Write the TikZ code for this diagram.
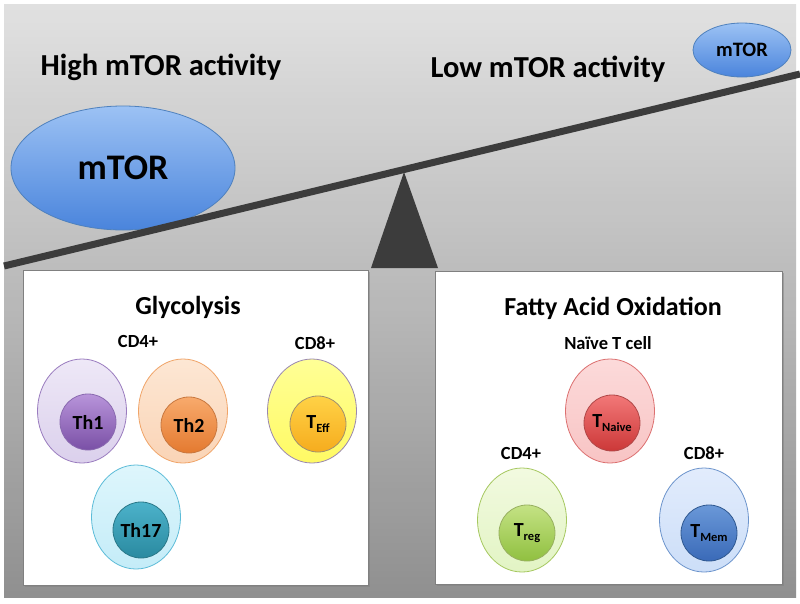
\documentclass[tikz,border=0pt]{standalone}
\usepackage{fontspec}
\setmainfont{Carlito}
\usetikzlibrary{shapes.geometric, shadows, positioning}

\definecolor{beamgray}{HTML}{3C3C3C}
\definecolor{mtorline}{HTML}{4F81BD}
\definecolor{mtortop}{HTML}{9CC2F4}
\definecolor{mtorbot}{HTML}{4A84DC}

\newcommand{\cellsub}[1]{\raisebox{-0.35ex}{\fontsize{12.5}{12.5}\selectfont #1}}

\tikzset{
  outercell/.style={ellipse, line width=0.8pt, minimum width=89pt, minimum height=104pt, inner sep=0pt},
  innercell/.style={circle, line width=0.8pt, minimum size=56pt, inner sep=0pt,
    font=\fontsize{20}{20}\selectfont\bfseries},
  bigtitle/.style={anchor=base, font=\fontsize{30.5}{30.5}\selectfont\bfseries},
  heading/.style={anchor=base, font=\fontsize{26}{26}\selectfont\bfseries},
  subset/.style={anchor=base, font=\fontsize{18.5}{18.5}\selectfont\bfseries},
  panel/.style={draw=gray, line width=0.8pt, fill=white,
    drop shadow={shadow xshift=2pt, shadow yshift=-2pt, opacity=0.5}},
  mtor/.style={ellipse, draw=mtorline, line width=0.8pt, top color=mtortop, bottom color=mtorbot,
    inner sep=0pt, font=\bfseries},
}

\begin{document}
\begin{tikzpicture}[x=1pt, y=-1pt]
	\useasboundingbox (0,0) rectangle (800,603);
	% background
	\fill[white] (0,0) rectangle (800,603);
	\path[top color=gray!10, bottom color=gray!78] (4,4) rectangle (796,597);
	\path[left color=black, middle color=white, right color=black, fill opacity=0.07] (4,4) rectangle (796,597);

	% the two sides of the balance
	\node[bigtitle] (hightxt) at (161,75) {High mTOR activity};
	\node[bigtitle] (lowtxt) at (548,77) {Low mTOR activity};
	\node[mtor, minimum width=224pt, minimum height=124pt, font=\fontsize{36}{36}\selectfont\bfseries] (bigmtor) at (123,168) {mTOR};
	\node[mtor, minimum width=98pt, minimum height=54pt, font=\fontsize{20.5}{20.5}\selectfont\bfseries] (smallmtor) at (742,50) {mTOR};

	% beam and fulcrum
	\coordinate (beamL) at (4,266);
	\coordinate (beamR) at (800,74);
	\coordinate (fulA) at (404,172);
	\coordinate (fulL) at (371,268);
	\coordinate (fulR) at (438,268);
	\fill[beamgray] (fulL) -- (fulA) -- (fulR) -- cycle;
	\draw[beamgray, line width=7pt] (beamL) -- (beamR);

	% panels
	\node[panel, minimum width=345pt, minimum height=315pt, inner sep=0pt] (glypanel) at (195.5,427.5) {};
	\node[panel, minimum width=347pt, minimum height=313pt, inner sep=0pt] (faopanel) at (608.5,427.5) {};

	% glycolysis side
	\node[heading] (glytxt) at (188,314) {Glycolysis};
	\node[subset] (cdfourL) at (138,347) {CD4+};
	\node[subset] (cdeight) at (315,349) {CD8+};

	\node[outercell, draw={rgb,255:red,154;green,124;blue,191}, top color={rgb,255:red,238;green,232;blue,247}, bottom color={rgb,255:red,219;green,208;blue,236}] (thoneout) at (82,411) {};
	\node[innercell, draw={rgb,255:red,138;green,106;blue,176}, top color={rgb,255:red,184;green,148;blue,218}, bottom color={rgb,255:red,122;green,80;blue,166}] (thone) at (88,422) {Th1};

	\node[outercell, draw={rgb,255:red,240;green,164;blue,104}, top color={rgb,255:red,253;green,231;blue,212}, bottom color={rgb,255:red,250;green,212;blue,182}] (thtwoout) at (183,411) {};
	\node[innercell, draw={rgb,255:red,200;green,120;blue,64}, top color={rgb,255:red,248;green,170;blue,108}, bottom color={rgb,255:red,228;green,122;blue,48}] (thtwo) at (189,425) {Th2};

	\node[outercell, draw={rgb,255:red,154;green,136;blue,176}, top color={rgb,255:red,255;green,255;blue,150}, bottom color={rgb,255:red,255;green,250;blue,100}] (teffout) at (312,411) {};
	\node[innercell, draw={rgb,255:red,160;green,144;blue,112}, top color={rgb,255:red,255;green,210;blue,70}, bottom color={rgb,255:red,246;green,172;blue,30}] (teff) at (318,424) {T\cellsub{Eff}};

	\node[outercell, draw={rgb,255:red,92;green,188;blue,216}, top color={rgb,255:red,222;green,246;blue,252}, bottom color={rgb,255:red,196;green,236;blue,248}] (thseventeenout) at (136,517) {};
	\node[innercell, draw={rgb,255:red,42;green,120;blue,136}, top color={rgb,255:red,76;green,178;blue,202}, bottom color={rgb,255:red,42;green,138;blue,160}] (thseventeen) at (141,530) {Th17};

	% fatty acid oxidation side
	\node[heading] (faotxt) at (613,315) {Fatty Acid Oxidation};
	\node[subset] (naivetxt) at (608,349) {Naïve T cell};
	\node[subset] (cdfourR) at (521,459) {CD4+};
	\node[subset] (cdeightR) at (704,459) {CD8+};

	\node[outercell, draw={rgb,255:red,220;green,112;blue,112}, top color={rgb,255:red,252;green,218;blue,218}, bottom color={rgb,255:red,248;green,196;blue,196}] (naiveout) at (610,411) {};
	\node[innercell, draw={rgb,255:red,176;green,72;blue,72}, top color={rgb,255:red,242;green,120;blue,120}, bottom color={rgb,255:red,204;green,56;blue,56}] (tnaive) at (612,423) {T\cellsub{Naive}};

	\node[outercell, draw={rgb,255:red,166;green,200;blue,96}, top color={rgb,255:red,242;green,250;blue,224}, bottom color={rgb,255:red,226;green,244;blue,196}] (tregout) at (522,520) {};
	\node[innercell, draw={rgb,255:red,152;green,176;blue,96}, top color={rgb,255:red,196;green,226;blue,132}, bottom color={rgb,255:red,144;green,192;blue,64}] (treg) at (527,533) {T\cellsub{reg}};

	\node[outercell, draw={rgb,255:red,108;green,148;blue,204}, top color={rgb,255:red,226;green,236;blue,252}, bottom color={rgb,255:red,204;green,222;blue,248}] (tmemout) at (704,520) {};
	\node[innercell, draw={rgb,255:red,47;green,88;blue,144}, top color={rgb,255:red,106;green,152;blue,216}, bottom color={rgb,255:red,58;green,106;blue,184}] (tmem) at (709,533) {T\cellsub{Mem}};
\end{tikzpicture}
\end{document}
